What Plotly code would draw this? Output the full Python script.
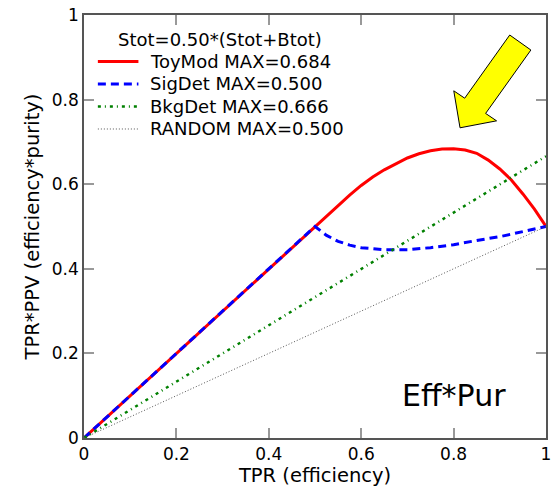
import plotly.graph_objects as go

# ---- data ----
toy_x = [0.0, 0.1, 0.2, 0.3, 0.4, 0.5, 0.55, 0.575, 0.6, 0.625, 0.65, 0.675, 0.7, 0.725, 0.75,
         0.775, 0.8, 0.825, 0.85, 0.875, 0.9, 0.925, 0.95, 0.975, 1.0]
toy_y = [0.0, 0.1, 0.2, 0.3, 0.4, 0.5, 0.550, 0.574, 0.597, 0.617, 0.634, 0.649, 0.662, 0.672, 0.679,
         0.683, 0.684, 0.681, 0.673, 0.657, 0.636, 0.610, 0.577, 0.541, 0.500]

sig_x = [0.0, 0.1, 0.2, 0.3, 0.4, 0.5, 0.525, 0.55, 0.575, 0.6, 0.65, 0.7, 0.75, 0.8, 0.85, 0.9, 0.95, 1.0]
sig_y = [0.0, 0.1, 0.2, 0.3, 0.4, 0.5, 0.479, 0.465, 0.456, 0.450, 0.445, 0.445, 0.450, 0.457, 0.467, 0.476, 0.488, 0.500]

bkg_x = [0.0, 0.5, 1.0]
bkg_y = [0.0, 0.333, 0.666]

rnd_x = [0.0, 0.5, 1.0]
rnd_y = [0.0, 0.25, 0.5]

names = ["ToyMod MAX=0.684", "SigDet MAX=0.500", "BkgDet MAX=0.666", "RANDOM MAX=0.500"]
legend_title = "Stot=0.50*(Stot+Btot)"
tick_vals = [0, 0.2, 0.4, 0.6, 0.8, 1]
tick_text = ["0", "0.2", "0.4", "0.6", "0.8", "1"]

# arrow polygon (decoration, data coords)
arrow_x = [0.9215, 0.9673, 0.8693, 0.8930, 0.8139, 0.8004, 0.8240]
arrow_y = [0.9527, 0.9172, 0.7673, 0.7498, 0.7333, 0.8208, 0.8033]

FONT = "DejaVu Sans"

styles = [
    dict(color="red", width=3),
    dict(color="blue", width=3, dash="8px,5px"),
    dict(color="green", width=2.5, dash="3px,4px,1px,4px"),
    dict(color="#555555", width=1, dash="1px,2px"),
]
series = [(toy_x, toy_y), (sig_x, sig_y), (bkg_x, bkg_y), (rnd_x, rnd_y)]

fig = go.Figure()
for (xs, ys), nm, st in zip(series, names, styles):
    fig.add_trace(go.Scatter(x=xs, y=ys, mode="lines", name=nm, line=st, showlegend=False))

path = "M " + " L ".join(f"{x},{y}" for x, y in zip(arrow_x, arrow_y)) + " Z"
fig.add_shape(type="path", path=path, xref="x", yref="y",
              fillcolor="yellow", line=dict(color="black", width=1))

fig.add_annotation(x=0.80, y=0.10, xref="x", yref="y", text="Eff*Pur", showarrow=False,
                   font=dict(family=FONT, size=30, color="black"))

# ---- hand-made legend (paper coordinates) ----
fig.add_annotation(x=0.2934, y=0.9409, xref="paper", yref="paper", text=legend_title,
                   showarrow=False, xanchor="center", yanchor="middle",
                   font=dict(family=FONT, size=18, color="black"))
row_y = [0.8901, 0.8369, 0.7837, 0.7305]
for ry, nm, st in zip(row_y, names, styles):
    fig.add_shape(type="line", xref="paper", yref="paper", x0=0.030, x1=0.1178, y0=ry, y1=ry,
                  line=st)
    fig.add_annotation(x=0.1385, y=ry, xref="paper", yref="paper", text=nm, showarrow=False,
                       xanchor="left", yanchor="middle",
                       font=dict(family=FONT, size=18, color="black"))

axis_common = dict(range=[0, 1], tickvals=tick_vals, ticktext=tick_text, ticks="inside",
                   ticklen=10, tickcolor="#999999", tickwidth=1.5, showgrid=False, zeroline=False,
                   showline=True, linecolor="#555555", linewidth=1.5, mirror="ticks",
                   ticklabeloverflow="allow",
                   tickfont=dict(family=FONT, size=17, color="black"))

fig.update_xaxes(title=dict(text="TPR (efficiency)", font=dict(family=FONT, size=19.5, color="black"), standoff=3),
                 **axis_common)
fig.update_yaxes(title=dict(text="TPR*PPV (efficiency*purity)", font=dict(family=FONT, size=19.5, color="black"), standoff=7),
                 **axis_common)

fig.update_layout(
    width=553, height=488,
    margin=dict(l=84, r=2, t=15, b=50),
    plot_bgcolor="white", paper_bgcolor="white",
    font=dict(family=FONT, color="black"),
    showlegend=False,
)

fig.write_html("out.html")
